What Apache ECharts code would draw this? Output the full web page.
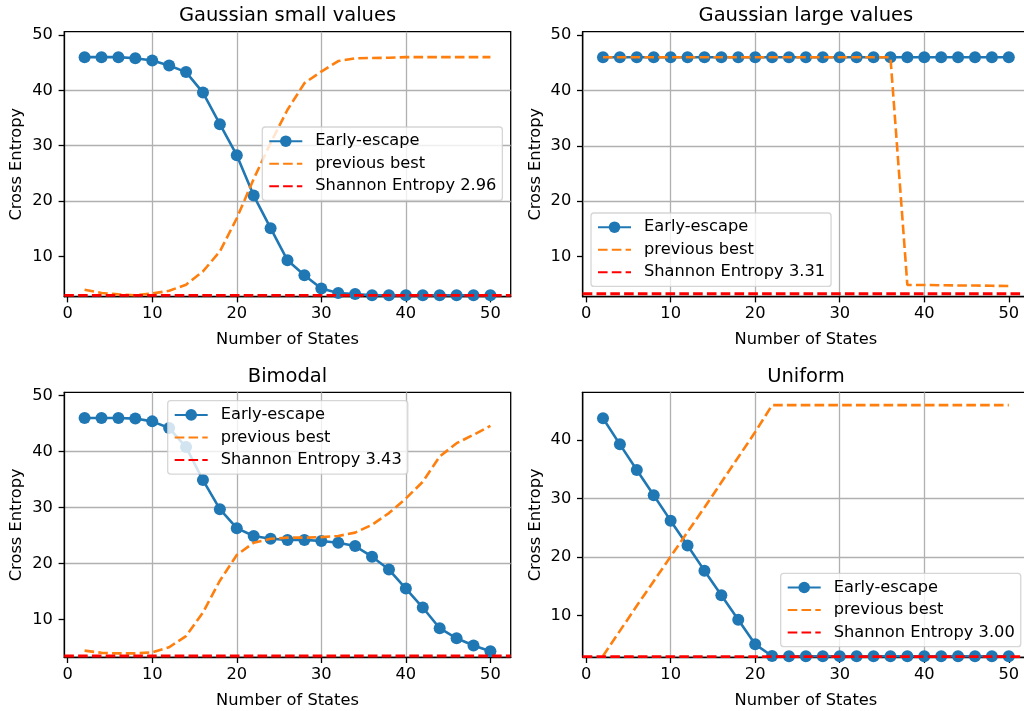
<!DOCTYPE html>
<html>
<head>
<meta charset="utf-8">
<title>Cross Entropy vs Number of States</title>
<script src="https://cdn.jsdelivr.net/npm/echarts@6/dist/echarts.min.js"></script>
<style>
  html, body { margin: 0; padding: 0; background: #ffffff; }
  #chart { width: 1024px; height: 711px; }
</style>
</head>
<body>
<div id="chart"></div>
<script>
// Number of states evaluated on every panel
const states = [2, 4, 6, 8, 10, 12, 14, 16, 18, 20, 22, 24, 26, 28, 30, 32, 34, 36, 38, 40, 42, 44, 46, 48, 50];

// Gaussian small values
const gaussSmallEarly = [46.0, 46.0, 46.0, 45.8, 45.4, 44.5, 43.3, 39.6, 33.9, 28.3, 21.0, 15.1, 9.3, 6.6, 4.2, 3.4, 3.2, 3.0, 3.0, 3.0, 3.0, 3.0, 3.0, 3.0, 3.0];
const gaussSmallPrev = [4.0, 3.4, 3.15, 3.0, 3.3, 3.8, 4.9, 7.3, 10.9, 16.9, 24.0, 30.5, 36.5, 41.3, 43.4, 45.3, 45.8, 45.85, 45.9, 46.0, 46.0, 46.0, 46.0, 46.0, 46.0];
const gaussSmallShannon = 2.96;

// Gaussian large values
const gaussLargeEarly = [46.0, 46.0, 46.0, 46.0, 46.0, 46.0, 46.0, 46.0, 46.0, 46.0, 46.0, 46.0, 46.0, 46.0, 46.0, 46.0, 46.0, 46.0, 46.0, 46.0, 46.0, 46.0, 46.0, 46.0, 46.0];
const gaussLargePrev = [46.0, 46.0, 46.0, 46.0, 46.0, 46.0, 46.0, 46.0, 46.0, 46.0, 46.0, 46.0, 46.0, 46.0, 46.0, 46.0, 46.0, 46.0, 4.9, 4.9, 4.85, 4.8, 4.8, 4.75, 4.7];
const gaussLargeShannon = 3.31;

// Bimodal
const bimodalEarly = [46.0, 46.0, 46.0, 45.9, 45.4, 44.2, 40.8, 34.9, 29.7, 26.3, 24.9, 24.4, 24.2, 24.2, 24.0, 23.7, 23.1, 21.2, 18.9, 15.5, 12.1, 8.4, 6.6, 5.3, 4.3];
const bimodalPrev = [4.4, 4.0, 3.9, 3.9, 4.1, 5.0, 7.0, 11.2, 16.9, 21.5, 23.7, 24.4, 24.6, 24.6, 24.7, 24.9, 25.5, 26.9, 29.0, 31.6, 34.6, 39.1, 41.5, 43.0, 44.6];
const bimodalShannon = 3.43;

// Uniform
const uniformEarly = [43.75, 39.3, 34.9, 30.6, 26.25, 22.0, 17.7, 13.5, 9.3, 5.1, 3.1, 3.05, 3.05, 3.05, 3.05, 3.05, 3.05, 3.05, 3.05, 3.05, 3.05, 3.05, 3.05, 3.05, 3.05];
const uniformPrev = [3.1, 7.4, 11.7, 15.9, 20.1, 24.3, 28.5, 32.8, 37.1, 41.4, 46.0, 46.0, 46.0, 46.0, 46.0, 46.0, 46.0, 46.0, 46.0, 46.0, 46.0, 46.0, 46.0, 46.0, 46.0];
const uniformShannon = 3.00;

// Tick labels
const xTicks = [0, 10, 20, 30, 40, 50];
const yTicksTall = [10, 20, 30, 40, 50];
const yTicksShort = [10, 20, 30, 40];

const titles = ['Gaussian small values', 'Gaussian large values', 'Bimodal', 'Uniform'];
const seriesNames = ['Early-escape', 'previous best', 'Shannon Entropy'];
const xLabel = 'Number of States';
const yLabel = 'Cross Entropy';

// ---------------------------------------------------------------------------
const FONT = 'DejaVu Sans';
const BLUE = '#1f77b4', ORANGE = '#ff7f0e', RED = '#ff0000';
const LINE_W = 2.6;
const DASH = [9.6, 4.2];
const X_MIN = -0.4, X_MAX = 52.4;
const GRID_W = 446.4, GRID_H = 265;

const panels = [
  { title: titles[0], early: gaussSmallEarly, prev: gaussSmallPrev, shannon: gaussSmallShannon,
    yMin: 2.73, yMax: 50.6, yTicks: yTicksTall, left: 64.3, top: 31.7, legend: { left: 262.3, top: 127 } },
  { title: titles[1], early: gaussLargeEarly, prev: gaussLargePrev, shannon: gaussLargeShannon,
    yMin: 2.78, yMax: 50.6, yTicks: yTicksTall, left: 582.7, top: 31.7, legend: { left: 591, top: 213 } },
  { title: titles[2], early: bimodalEarly, prev: bimodalPrev, shannon: bimodalShannon,
    yMin: 3.2, yMax: 50.6, yTicks: yTicksTall, left: 64.3, top: 392.3, legend: { left: 167.7, top: 400.7 } },
  { title: titles[3], early: uniformEarly, prev: uniformPrev, shannon: uniformShannon,
    yMin: 2.88, yMax: 48.2, yTicks: yTicksShort, left: 582.7, top: 392.3, legend: { left: 780.7, top: 573.3 } }
];

const grids = [], xAxes = [], yAxes = [], series = [], legends = [], texts = [];

panels.forEach((p, i) => {
  const shannonName = seriesNames[2] + ' ' + p.shannon.toFixed(2);
  const cx = p.left + GRID_W / 2;
  const cy = p.top + GRID_H / 2;

  grids.push({
    left: p.left, top: p.top, width: GRID_W, height: GRID_H,
    show: true, borderColor: '#000', borderWidth: 1.3, backgroundColor: 'transparent',
    containLabel: false, outerBoundsMode: 'none'
  });

  xAxes.push({
    gridIndex: i, type: 'value', min: X_MIN, max: X_MAX,
    axisLine: { show: true, onZero: false, lineStyle: { color: '#000', width: 1.3 } },
    axisTick: { show: true, inside: false, length: 5.7, customValues: xTicks, lineStyle: { color: '#000', width: 1.3 } },
    axisLabel: { show: true, customValues: xTicks, margin: 9, color: '#000', fontFamily: FONT, fontSize: 16.25,
                 showMinLabel: true, showMaxLabel: true },
    splitLine: { show: true, showMinLine: false, showMaxLine: false, lineStyle: { color: '#b0b0b0', width: 1.3 } }
  });

  yAxes.push({
    gridIndex: i, type: 'value', min: p.yMin, max: p.yMax,
    axisLine: { show: true, onZero: false, lineStyle: { color: '#000', width: 1.3 } },
    axisTick: { show: true, inside: false, length: 5.7, customValues: p.yTicks, lineStyle: { color: '#000', width: 1.3 } },
    axisLabel: { show: true, customValues: p.yTicks, margin: 11.4, color: '#000', fontFamily: FONT, fontSize: 16.25 },
    splitLine: { show: true, showMinLine: false, showMaxLine: false, lineStyle: { color: '#b0b0b0', width: 1.3 } }
  });

  series.push({
    type: 'line', name: seriesNames[0], xAxisIndex: i, yAxisIndex: i,
    data: states.map((s, k) => [s, p.early[k]]),
    symbol: 'circle', symbolSize: 12, showSymbol: true, showAllSymbol: true,
    color: BLUE, itemStyle: { color: BLUE },
    lineStyle: { color: BLUE, width: LINE_W },
    z: 2, clip: true, silent: true, emphasis: { disabled: true }
  });
  series.push({
    type: 'line', name: seriesNames[1], xAxisIndex: i, yAxisIndex: i,
    data: states.map((s, k) => [s, p.prev[k]]),
    symbol: 'none', color: ORANGE, itemStyle: { color: ORANGE },
    lineStyle: { color: ORANGE, width: LINE_W, type: DASH },
    z: 3, clip: true, silent: true, emphasis: { disabled: true }
  });
  // horizontal reference line across the full x range of the axes
  series.push({
    type: 'line', name: shannonName, xAxisIndex: i, yAxisIndex: i,
    data: [[X_MIN, p.shannon], [X_MAX, p.shannon]],
    symbol: 'none', color: RED, itemStyle: { color: RED },
    lineStyle: { color: RED, width: 2.8, type: DASH },
    z: 4, clip: true, silent: true, emphasis: { disabled: true }
  });

  legends.push({
    left: p.legend.left, top: p.legend.top, orient: 'vertical',
    itemWidth: 33, itemHeight: 14.5, itemGap: 6.5,
    padding: [6.2, 6, 6.2, 6],
    backgroundColor: 'rgba(255,255,255,0.8)', borderColor: 'rgba(204,204,204,0.8)',
    borderWidth: 1.3, borderRadius: 3, selectedMode: false, z: 10,
    textStyle: { fontFamily: FONT, fontSize: 16.25, color: '#000', padding: [0, 0, 0, 8] },
    data: [
      { name: seriesNames[0] },
      { name: seriesNames[1], itemStyle: { opacity: 0 } },
      { name: shannonName, itemStyle: { opacity: 0 } }
    ]
  });

  // panel title
  texts.push({ type: 'text', x: cx, y: p.top - 15.7, silent: true,
    style: { text: p.title, fill: '#000', font: '19.5px "DejaVu Sans"', align: 'center', verticalAlign: 'middle' } });
  // x axis label
  texts.push({ type: 'text', x: cx, y: p.top + GRID_H + 43.4, silent: true,
    style: { text: xLabel, fill: '#000', font: '16.25px "DejaVu Sans"', align: 'center', verticalAlign: 'middle' } });
  // y axis label
  texts.push({ type: 'text', x: p.left - 47.3, y: cy, rotation: Math.PI / 2, silent: true,
    style: { text: yLabel, fill: '#000', font: '16.25px "DejaVu Sans"', align: 'center', verticalAlign: 'middle' } });
});

const chart = echarts.init(document.getElementById('chart'), null, { renderer: 'canvas' });
chart.setOption({
  animation: false,
  backgroundColor: '#ffffff',
  textStyle: { fontFamily: FONT },
  grid: grids,
  xAxis: xAxes,
  yAxis: yAxes,
  legend: legends,
  series: series,
  graphic: { elements: texts }
});
</script>
</body>
</html>
